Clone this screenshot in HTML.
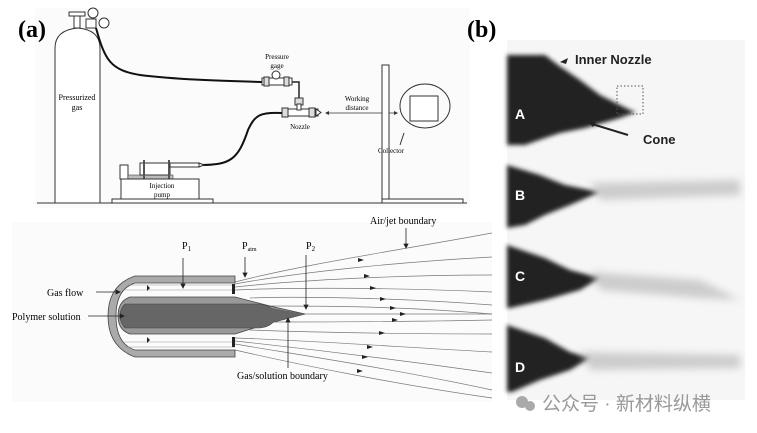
<!DOCTYPE html>
<html><head><meta charset="utf-8"><style>
body{margin:0;background:#fff;}
svg{display:block;font-family:"Liberation Serif",serif;}
</style></head><body>
<svg width="757" height="433" viewBox="0 0 757 433" xmlns="http://www.w3.org/2000/svg">
<defs>
<filter id="bl"><feGaussianBlur stdDeviation="2"/></filter>
<filter id="bl2"><feGaussianBlur stdDeviation="4"/></filter>
</defs>
<rect width="757" height="433" fill="#fff"/>
<rect x="35" y="8" width="435" height="200" fill="#fbfbfb"/>
<text x="18" y="37" font-size="24" font-weight="bold">(a)</text>
<text x="467" y="37" font-size="24" font-weight="bold">(b)</text>
<!-- cylinder -->
<path d="M55,203 V48 Q55,30 78,28 Q100,30 100,48 V203" fill="#fff" stroke="#333" stroke-width="1"/>
<rect x="74" y="16" width="6" height="12" fill="#fff" stroke="#333"/>
<rect x="69" y="12" width="16" height="4" fill="#fff" stroke="#333"/>
<circle cx="93" cy="13" r="5" fill="#fff" stroke="#333"/>
<circle cx="104" cy="23" r="5" fill="#fff" stroke="#333"/>
<rect x="86" y="19" width="10" height="9" fill="#fff" stroke="#333"/>
<text x="77" y="100" font-size="8" text-anchor="middle">Pressurized</text>
<text x="77" y="110" font-size="8" text-anchor="middle">gas</text>
<!-- hose -->
<path d="M96,28 C105,60 110,70 140,75 C180,80 230,81 262,82" fill="none" stroke="#111" stroke-width="2"/>
<rect x="262" y="78" width="30" height="7" fill="#fff" stroke="#333"/>
<rect x="264" y="77" width="5" height="9" fill="#ddd" stroke="#333"/>
<rect x="284" y="77" width="5" height="9" fill="#ddd" stroke="#333"/>
<circle cx="276" cy="75" r="4" fill="#fff" stroke="#333"/>
<text x="277" y="59" font-size="7" text-anchor="middle">Pressure</text>
<text x="277" y="68" font-size="7" text-anchor="middle">gage</text>
<path d="M292,82 H299 V100" fill="none" stroke="#222" stroke-width="1.5"/>
<rect x="295" y="98" width="8" height="7" fill="#ddd" stroke="#333"/>
<rect x="283" y="109" width="35" height="7" fill="#fff" stroke="#333"/>
<rect x="282" y="108" width="6" height="9" fill="#ddd" stroke="#333"/>
<rect x="309" y="108" width="6" height="9" fill="#ddd" stroke="#333"/>
<path d="M316,109 L321,112.5 L316,116Z" fill="#fff" stroke="#333"/>
<rect x="297" y="104" width="4" height="6" fill="#fff" stroke="#333"/>
<text x="300" y="129" font-size="7" text-anchor="middle">Nozzle</text>
<path d="M282,113 C260,112 255,115 248,130 C238,160 230,165 200,165" fill="none" stroke="#111" stroke-width="2"/>
<!-- working distance -->
<line x1="326" y1="113" x2="396" y2="113" stroke="#333" stroke-width="0.8"/>
<path d="M325,113 l4,-2 v4z M398,113 l-4,-2 v4z" fill="#333"/>
<text x="357" y="101" font-size="7" text-anchor="middle">Working</text>
<text x="357" y="110" font-size="7" text-anchor="middle">distance</text>
<!-- pump -->
<rect x="120" y="165" width="8" height="14" fill="#fff" stroke="#333"/>
<rect x="128" y="175" width="45" height="4" fill="#bbb" stroke="#333" stroke-width="0.5"/>
<rect x="140" y="163" width="30" height="12" fill="#fff" stroke="#333"/>
<rect x="143" y="160" width="2" height="19" fill="#555"/>
<rect x="168" y="160" width="2" height="19" fill="#555"/>
<rect x="170" y="163" width="29" height="4" fill="#fff" stroke="#333"/>
<path d="M199,163 L204,165 L199,167Z" fill="#fff" stroke="#333"/>
<rect x="121" y="179" width="78" height="21" fill="#fff" stroke="#333"/>
<text x="162" y="188" font-size="7" text-anchor="middle">Injection</text>
<text x="162" y="197" font-size="7" text-anchor="middle">pump</text>
<rect x="112" y="199" width="101" height="4" fill="#fff" stroke="#333"/>
<!-- stand -->
<rect x="382" y="65" width="7" height="134" fill="#fff" stroke="#333"/>
<ellipse cx="425" cy="106" rx="25" ry="22" fill="none" stroke="#333"/>
<rect x="410" y="96" width="28" height="25" fill="#fff" stroke="#333"/>
<rect x="382" y="199" width="81" height="4" fill="#fff" stroke="#333"/>
<line x1="400" y1="145" x2="404" y2="133" stroke="#333"/>
<text x="391" y="153" font-size="7" text-anchor="middle">Collector</text>
<line x1="37" y1="203" x2="467" y2="203" stroke="#333"/>
<!-- bottom panel -->
<rect x="12" y="222" width="480" height="180" fill="#fbfbfb"/>
<g stroke="#777" stroke-width="0.7" fill="none">
<path d="M235,282 C300,265 400,250 492,233"/>
<path d="M235,284 C300,272 400,262 492,257"/>
<path d="M235,287 C300,280 400,275 492,275"/>
<path d="M235,290 C300,287 400,288 492,292"/>
<path d="M250,298 C300,296 400,298 492,305"/>
<path d="M270,306 C320,306 400,306 492,314"/>
<path d="M305,314 C360,314 420,314 492,314"/>
<path d="M270,322 C320,322 400,322 492,320"/>
<path d="M250,330 C300,332 400,334 492,334"/>
<path d="M235,338 C300,340 400,347 492,352"/>
<path d="M235,341 C300,348 400,360 492,373"/>
<path d="M235,344 C300,355 400,370 492,390"/>
<path d="M235,350 C300,365 400,385 492,398"/>
</g>
<g fill="#222">
<path d="M358,258 l6,2 l-6,2z M364,274 l6,2 l-6,2z M370,286 l6,2 l-6,2z M380,297 l6,2 l-6,2z M390,306 l6,2 l-6,2z M400,312 l6,2 l-6,2z M392,318 l6,2 l-6,2z M379,331 l6,2 l-6,2z M367,345 l6,2 l-6,2z M362,355 l6,2 l-6,2z M357,369 l6,2 l-6,2z"/>
</g>
<!-- nozzle -->
<path d="M235,276 H135 Q108,285 108,316 Q108,347 135,357 H235 V350 H135 Q116,344 116,316 Q116,289 135,283 H235Z" fill="#aaa" stroke="#444" stroke-width="0.8"/>
<path d="M235,297 L270,306 L305,314 L270,323 L235,334 H130 Q118,330 118,316 Q118,301 130,297Z" fill="#999" stroke="#444" stroke-width="0.8"/>
<path d="M125,304 H260 Q275,306 275,316 Q275,326 260,328 H125 Q120,322 120,316 Q120,309 125,304Z" fill="#666" stroke="#444" stroke-width="0.6"/>
<path d="M255,305 L305,314 L255,326Z" fill="#666"/>
<g stroke="#999" stroke-width="0.5"><line x1="125" y1="285" x2="235" y2="285"/><line x1="125" y1="290" x2="235" y2="290"/><line x1="125" y1="342" x2="235" y2="342"/><line x1="125" y1="347" x2="235" y2="347"/></g>
<g fill="#222"><rect x="232" y="284" width="3" height="10"/><rect x="232" y="337" width="3" height="10"/>
<path d="M147,285 l3,3 -3,3z M147,337 l3,3 -3,3z"/></g>
<g font-size="10">
<text x="47" y="296">Gas flow</text>
<text x="12" y="320">Polymer solution</text>
<text x="182" y="249">P<tspan font-size="7" dy="2">1</tspan></text>
<text x="242" y="249">P<tspan font-size="6" dy="2">atm</tspan></text>
<text x="306" y="249">P<tspan font-size="7" dy="2">2</tspan></text>
<text x="370" y="224">Air/jet boundary</text>
<text x="237" y="379">Gas/solution boundary</text>
</g>
<g stroke="#222" stroke-width="0.8" fill="#222">
<line x1="96" y1="292" x2="118" y2="292"/><path d="M120,292 l-4,-2 v4z"/>
<line x1="88" y1="316" x2="122" y2="316"/><path d="M124,316 l-4,-2 v4z"/>
<line x1="183" y1="258" x2="183" y2="286"/><path d="M183,288 l-2,-4 h4z"/>
<line x1="245" y1="257" x2="245" y2="275"/><path d="M245,277 l-2,-4 h4z"/>
<line x1="306" y1="255" x2="306" y2="307"/><path d="M306,309 l-2,-4 h4z"/>
<line x1="406" y1="228" x2="406" y2="246"/><path d="M406,248 l-2,-4 h4z"/>
<line x1="288" y1="368" x2="288" y2="320"/><path d="M288,318 l-2,4 h4z"/>
</g>
<!-- (b) photos -->
<rect x="507" y="40" width="238" height="360" fill="#f6f6f6"/>
<g filter="url(#bl)" fill="#222">
<path d="M507,55 L545,55 L558,65 L580,80 L600,95 L630,110 L636,112 L620,118 L585,128 L560,133 L545,138 L525,145 L507,145Z"/>
<path d="M507,165 L540,175 L565,185 L590,190 L600,192 L570,205 L545,215 L525,225 L507,228Z"/>
<path d="M507,245 L545,258 L570,270 L600,278 L580,290 L545,300 L510,308 L507,308Z"/>
<path d="M507,325 L545,338 L570,352 L590,358 L570,370 L540,380 L512,392 L507,392Z"/>
</g>
<g filter="url(#bl2)" fill="#bbb" opacity="0.7">
<path d="M590,183 L740,180 L740,195 L600,200Z"/>
<path d="M590,272 L700,280 L740,300 L700,298 L600,290Z"/>
<path d="M580,352 L740,355 L740,368 L590,370Z"/>
</g>
<rect x="617" y="86" width="26" height="28" fill="none" stroke="#555" stroke-dasharray="1.5,2"/>
<g font-family="Liberation Sans,sans-serif" font-weight="bold">
<text x="575" y="64" font-size="13" fill="#222">Inner Nozzle</text>
<text x="643" y="144" font-size="13" fill="#222">Cone</text>
<text x="515" y="119" font-size="14" fill="#fff">A</text>
<text x="515" y="200" font-size="14" fill="#fff">B</text>
<text x="515" y="281" font-size="14" fill="#fff">C</text>
<text x="515" y="372" font-size="14" fill="#fff">D</text>
</g>
<path d="M560,62 l8,-4 -2,6z" fill="#222"/>
<line x1="628" y1="135" x2="592" y2="124" stroke="#222" stroke-width="2"/>
<path d="M588,122 l8,0 -3,5z" fill="#222"/>
<circle cx="522" cy="402" r="6" fill="#aaa"/><circle cx="530" cy="406" r="5" fill="#aaa"/>
<text x="542" y="410" font-size="19" fill="#999" font-family="Liberation Sans,'Noto Sans CJK SC',sans-serif">公众号 · 新材料纵横</text>
</svg>
</body></html>
